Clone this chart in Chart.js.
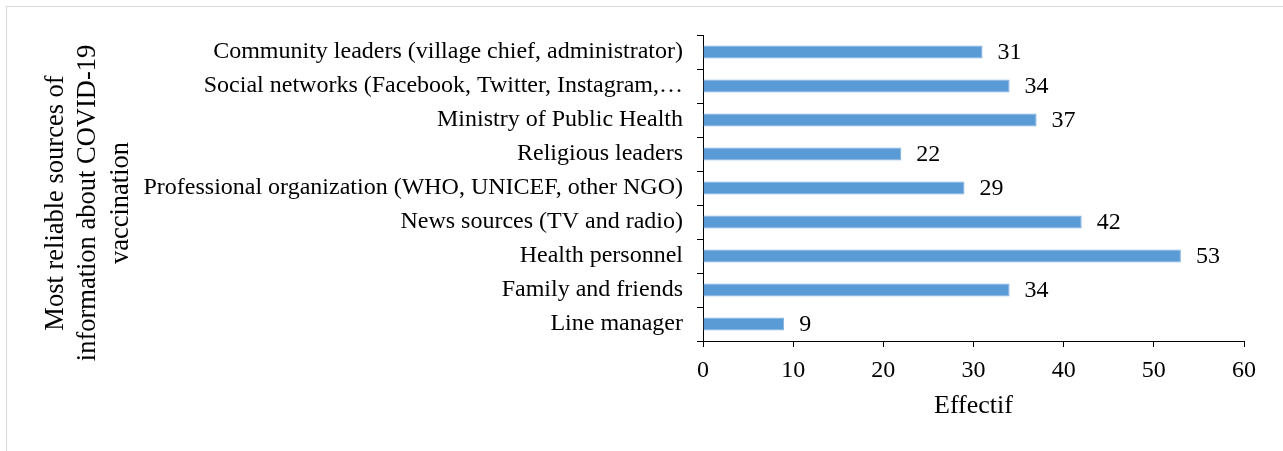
<!DOCTYPE html>
<html>
<head>
<meta charset="utf-8">
<title>Most reliable sources of information about COVID-19 vaccination</title>
<script src="https://cdn.jsdelivr.net/npm/chart.js@4/dist/chart.umd.min.js"></script>
<style>
  html, body { margin: 0; padding: 0; background: #fff; }
  #wrap { position: relative; width: 1283px; height: 451px; }
  #frame { position: absolute; left: 6px; top: 6px; right: 0; bottom: 0;
           border-left: 1px solid #d9d9d9; border-top: 1px solid #d9d9d9; }
  canvas { position: absolute; left: 0; top: 0; }
</style>
</head>
<body>
<div id="wrap">
  <div id="frame"></div>
  <canvas id="chart" width="1283" height="451"></canvas>
</div>
<script>
// ── Data ────────────────────────────────────────────────────
const sources = [
  "Community leaders (village chief, administrator)",
  "Social networks (Facebook, Twitter, Instagram,\u2026",
  "Ministry of Public Health",
  "Religious leaders",
  "Professional organization (WHO, UNICEF, other NGO)",
  "News sources (TV and radio)",
  "Health personnel",
  "Family and friends",
  "Line manager"
];
const counts = [31, 34, 37, 22, 29, 42, 53, 34, 9];
const xTicks = [0, 10, 20, 30, 40, 50, 60];
const yTitleLines = ["Most reliable sources of", "information about COVID-19", "vaccination"];
const xTitle = "Effectif";

const FONT = "'Liberation Serif', 'Times New Roman', serif";
const TEXT_SIZE = 24;

// value labels to the right of each bar
const barValues = {
  id: "barValues",
  afterDatasetsDraw(chart) {
    const ctx = chart.ctx;
    const meta = chart.getDatasetMeta(0);
    ctx.save();
    ctx.font = TEXT_SIZE + "px " + FONT;
    ctx.fillStyle = "#000";
    ctx.textAlign = "left";
    ctx.textBaseline = "middle";
    meta.data.forEach((bar, i) => {
      ctx.fillText(String(counts[i]), bar.x + 15, bar.y + 1);
    });
    ctx.restore();
  }
};

// three-line rotated title for the category axis
const yAxisTitle = {
  id: "yAxisTitle",
  afterDraw(chart) {
    const ctx = chart.ctx;
    const area = chart.chartArea;
    const cy = (area.top + area.bottom) / 2 + 15;
    ctx.save();
    ctx.font = "26.5px " + FONT;
    ctx.fillStyle = "#000";
    ctx.textAlign = "center";
    ctx.textBaseline = "middle";
    yTitleLines.forEach((line, i) => {
      ctx.save();
      ctx.translate(56 + i * 32.5, cy);
      ctx.rotate(-Math.PI / 2);
      ctx.fillText(line, 0, 0);
      ctx.restore();
    });
    ctx.restore();
  }
};

new Chart(document.getElementById("chart"), {
  type: "bar",
  data: {
    labels: sources,
    datasets: [{
      data: counts,
      backgroundColor: "#5b9bd5",
      borderColor: "#7fb0de",
      borderWidth: 1,
      borderSkipped: "left",
      barPercentage: 0.38,
      categoryPercentage: 1
    }]
  },
  options: {
    indexAxis: "y",
    responsive: false,
    animation: false,
    devicePixelRatio: 1,
    layout: { padding: { top: 35, right: 39, left: 0, bottom: 25 } },
    plugins: {
      legend: { display: false },
      tooltip: { enabled: false }
    },
    scales: {
      x: {
        min: 0,
        max: 60,
        afterBuildTicks(scale) {
          scale.ticks = xTicks.map(v => ({ value: v }));
        },
        afterFit(scale) { scale.height = 85; },
        grid: {
          display: true,
          drawOnChartArea: false,
          drawTicks: true,
          tickLength: 6,
          color: "#000"
        },
        border: { display: true, color: "#000", width: 1 },
        ticks: {
          color: "#000",
          padding: 9,
          font: { family: FONT, size: TEXT_SIZE }
        },
        title: {
          display: true,
          text: xTitle,
          color: "#000",
          padding: { top: 4, bottom: 4 },
          font: { family: FONT, size: 26 }
        }
      },
      y: {
        afterFit(scale) { scale.width = 703; },
        grid: {
          display: true,
          drawOnChartArea: false,
          offset: true,
          tickLength: 6,
          color: "#000"
        },
        border: { display: true, color: "#000", width: 1 },
        ticks: {
          color: "#000",
          padding: 14,
          autoSkip: false,
          font: { family: FONT, size: TEXT_SIZE }
        }
      }
    }
  },
  plugins: [barValues, yAxisTitle]
});
</script>
</body>
</html>
